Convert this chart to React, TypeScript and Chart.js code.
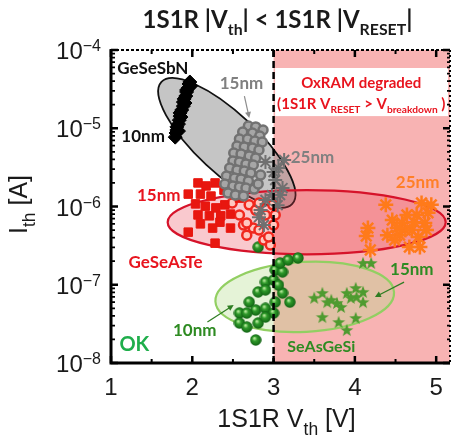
import React, { useEffect, useRef } from 'react';
import { Chart, registerables } from 'chart.js';

Chart.register(...registerables);

// ---- axes ----
const X_MIN = 1;
const X_MAX = 5.17;
const Y_MIN = 1e-8;
const Y_MAX = 1e-4;
const X_TICKS = [1, 2, 3, 4, 5];
const X_MINOR = [1.5, 2.5, 3.5, 4.5];
const Y_DECADES = [-8, -7, -6, -5, -4];
const X_LIMIT = 3; // 1S1R |Vth| < 1S1R |VRESET| boundary

// ---- GeSeSbN 10nm (black diamonds) ----
const sbn10X = [1.97, 1.98, 1.95, 1.93, 1.92, 1.9, 1.91, 1.89, 1.87, 1.85, 1.86, 1.84, 1.83, 1.81, 1.83, 1.8, 1.79, 1.96, 1.93, 1.89, 1.85, 1.81];
const sbn10Y = [3.9e-5, 3.47e-5, 3.27e-5, 2.91e-5, 2.58e-5, 2.37e-5, 2.1e-5, 1.92e-5, 1.71e-5, 1.57e-5, 1.39e-5, 1.27e-5, 1.13e-5, 1.04e-5, 9.2e-6, 8.7e-6, 7.7e-6, 3.68e-5, 3.08e-5, 2.16e-5, 1.43e-5, 9.5e-6];

// ---- GeSeSbN 15nm (grey circles) ----
const sbn15X = [2.69, 2.78, 2.87, 2.62, 2.74, 2.83, 2.58, 2.68, 2.77, 2.86, 2.55, 2.64, 2.74, 2.82, 2.51, 2.6, 2.7, 2.78, 2.5, 2.58, 2.66, 2.75, 2.46, 2.55, 2.64, 2.72, 2.42, 2.52, 2.6, 2.69, 2.4, 2.5, 2.58, 2.66, 2.76, 2.44, 2.53, 2.63, 2.81, 2.84];
const sbn15Y = [1.07e-5, 1.04e-5, 9.5e-6, 8.95e-6, 8.7e-6, 7.96e-6, 7.29e-6, 7.29e-6, 6.87e-6, 6.67e-6, 5.93e-6, 5.75e-6, 5.6e-6, 5.27e-6, 4.83e-6, 4.69e-6, 4.42e-6, 4.17e-6, 3.81e-6, 3.71e-6, 3.49e-6, 3.39e-6, 3.1e-6, 2.92e-6, 2.84e-6, 2.68e-6, 2.45e-6, 2.31e-6, 2.25e-6, 2.12e-6, 1.94e-6, 1.83e-6, 1.77e-6, 1.72e-6, 1.67e-6, 1.49e-6, 1.4e-6, 1.36e-6, 1.94e-6, 2.53e-6];

// ---- GeSeSbN 25nm (grey asterisks) ----
const sbn25X = [2.9, 3.06, 3.13, 3.02, 3.11, 2.98, 3.05, 2.9, 2.84, 2.82, 2.88, 3.08, 3.0];
const sbn25Y = [3.71e-6, 3.1e-6, 3.93e-6, 2.18e-6, 1.72e-6, 1.4e-6, 1.04e-6, 1.21e-6, 9.0e-7, 7.3e-7, 5.8e-7, 1.4e-6, 2.76e-6];

// ---- GeSeAsTe 15nm (red squares) ----
const asTe15X = [2.07, 2.17, 2.28, 2.39, 1.95, 2.1, 2.23, 2.04, 2.16, 2.29, 2.4, 2.47, 2.35, 2.21, 2.07, 2.1, 2.34, 2.47, 2.25, 1.95, 2.28, 2.58];
const asTe15Y = [2.0e-6, 1.83e-6, 2.0e-6, 1.62e-6, 1.44e-6, 1.44e-6, 1.36e-6, 1.08e-6, 1.01e-6, 9.6e-7, 1.05e-6, 8.0e-7, 7.6e-7, 7.6e-7, 7.8e-7, 6.0e-7, 6.3e-7, 5.3e-7, 5.3e-7, 4.7e-7, 3.4e-7, 1.28e-6];

// ---- GeSeAsTe 25nm (red circles) ----
const asTe25X = [2.49, 2.58, 2.63, 2.67, 2.75, 2.82, 2.88, 2.99, 3.0, 2.96, 2.7, 2.78, 2.9, 2.82, 2.94, 2.67, 3.02];
const asTe25Y = [1.11e-6, 7.8e-7, 5.8e-7, 4.3e-7, 5.3e-7, 5.0e-7, 3.73e-7, 1.05e-6, 5.8e-7, 3.22e-7, 1.05e-6, 9.0e-7, 7.8e-7, 1.11e-6, 4.07e-7, 6.15e-7, 7.8e-7];

// ---- 25nm degraded (orange asterisks) ----
const orange25X = [4.38, 4.82, 4.9, 4.46, 4.58, 4.62, 4.55, 4.7, 4.78, 4.86, 4.16, 4.19, 4.8, 4.67, 4.49, 4.94, 4.76, 4.64, 4.52, 4.4, 4.73, 4.88, 4.14];
const orange25Y = [1.05e-6, 1.11e-6, 8.3e-7, 6.7e-7, 6.15e-7, 5.0e-7, 4.3e-7, 5.0e-7, 4.07e-7, 6.15e-7, 5.3e-7, 2.78e-7, 3.03e-7, 3.03e-7, 3.73e-7, 1.05e-6, 7.8e-7, 7.8e-7, 5.3e-7, 4.3e-7, 6.3e-7, 5.0e-7, 4.2e-7];

// ---- SeAsGeSi 10nm (green spheres) ----
const si10X = [2.58, 2.7, 2.81, 2.9, 3.0, 3.02, 3.11, 3.08, 3.11, 3.2, 3.02, 2.78, 2.9, 2.81, 2.58, 3.0, 2.9, 2.67, 2.78, 3.18, 3.3, 2.81, 2.67, 2.9, 3.06];
const si10Y = [4.35e-8, 6.0e-8, 8.1e-8, 1.08e-7, 1.15e-7, 1.54e-7, 1.46e-7, 1.9e-7, 7.85e-8, 6.0e-8, 6.0e-8, 4.75e-8, 5.0e-8, 3.24e-8, 3.24e-8, 4.35e-8, 3.87e-8, 4.35e-8, 1.97e-8, 2.07e-7, 2.2e-7, 3.03e-7, 2.88e-8, 8.6e-8, 9.9e-8];

// ---- SeAsGeSi 15nm (green stars) ----
const si15X = [3.5, 3.6, 3.71, 3.78, 3.9, 4.01, 4.1, 4.02, 4.1, 3.83, 3.6, 3.8, 4.01, 3.9, 4.1, 4.2, 3.66, 3.95];
const si15Y = [6.8e-8, 7.85e-8, 6.4e-8, 5.85e-8, 7.85e-8, 9.1e-8, 8.1e-8, 7.0e-8, 6.0e-8, 5.2e-8, 3.87e-8, 3.34e-8, 3.76e-8, 2.64e-8, 1.9e-7, 1.9e-7, 6.0e-8, 6.8e-8];

// ---- ellipses (center in data, semi-axes in volts-equivalent, angle deg) ----
const ELLIPSES = [
  { cx: 2.425, cy: 6.5e-6, rx: 1.1, ry: 0.37, angle: 43, fill: 'rgba(150,150,150,0.55)', stroke: '#111111', lw: 1.8 },
  { cx: 3.407, cy: 6.3e-7, rx: 1.71, ry: 0.395, angle: 0, fill: 'rgba(235,60,80,0.28)', stroke: '#d6132a', lw: 2.2 },
  { cx: 3.383, cy: 7.0e-8, rx: 1.1, ry: 0.43, angle: -3, fill: 'rgba(180,220,140,0.35)', stroke: '#92cf62', lw: 2.2 },
];

type Run = { t: string; k?: 'sub' | 'sup' };

const LABELS: { runs: Run[]; x: number; y: number; color: string; size: number }[] = [
  { runs: [{ t: 'GeSeSbN' }], x: 1.515, y: 5.89e-5, color: '#111111', size: 17 },
  { runs: [{ t: '10nm' }], x: 1.395, y: 7.96e-6, color: '#111111', size: 17 },
  { runs: [{ t: '15nm' }], x: 2.605, y: 3.79e-5, color: '#808080', size: 17 },
  { runs: [{ t: '25nm' }], x: 3.479, y: 4.29e-6, color: '#808080', size: 17 },
  { runs: [{ t: '15nm' }], x: 1.587, y: 1.4e-6, color: '#e8141e', size: 17 },
  { runs: [{ t: 'GeSeAsTe' }], x: 1.671, y: 1.95e-7, color: '#e8141e', size: 17 },
  { runs: [{ t: '25nm' }], x: 4.772, y: 2.06e-6, color: '#ff7f27', size: 17 },
  { runs: [{ t: '15nm' }], x: 4.7, y: 1.59e-7, color: '#2e8b22', size: 17 },
  { runs: [{ t: '10nm' }], x: 2.03, y: 2.64e-8, color: '#2e8b22', size: 17 },
  { runs: [{ t: 'SeAsGeSi' }], x: 3.587, y: 1.65e-8, color: '#2e8b22', size: 16 },
  { runs: [{ t: 'OK' }], x: 1.287, y: 1.75e-8, color: '#1fae4b', size: 20 },
];

const ARROWS = [
  { from: [2.641, 2.58e-5], to: [2.701, 1.35e-5], color: '#8c8c8c' },
  { from: [4.605, 1.08e-7], to: [4.246, 6.97e-8], color: '#2e7d22' },
  { from: [2.186, 3.34e-8], to: [2.509, 5.51e-8], color: '#2e7d22' },
];

const BOX = { x0: 3, yTop: 5.89e-5, yBottom: 1.43e-5, textX: 4.078, line1Y: 3.79e-5, line2Y: 2.1e-5 };
const BOX_LINE1: Run[] = [{ t: 'OxRAM degraded' }];
const BOX_LINE2: Run[] = [{ t: '(1S1R V' }, { t: 'RESET', k: 'sub' }, { t: ' > V' }, { t: 'breakdown', k: 'sub' }, { t: ' )' }];
const TITLE: Run[] = [{ t: '1S1R |V' }, { t: 'th', k: 'sub' }, { t: '| < 1S1R |V' }, { t: 'RESET', k: 'sub' }, { t: '|' }];
const X_TITLE: Run[] = [{ t: '1S1R V' }, { t: 'th', k: 'sub' }, { t: ' [V]' }];
const Y_TITLE: Run[] = [{ t: 'I' }, { t: 'th', k: 'sub' }, { t: ' [A]' }];

const BOLD = 'Lato, "Open Sans", sans-serif';
const SANS = '"Liberation Sans", Arial, sans-serif';

const pts = (xs: number[], ys: number[]) => xs.map((x, i) => ({ x, y: ys[i] }));

function drawRuns(
  ctx: CanvasRenderingContext2D,
  runs: Run[],
  x: number,
  base: number,
  size: number,
  color: string,
  align: 'left' | 'center' | 'right',
  family: string,
  weight: string,
  subRatio = 0.65,
  subShift = 0.28
) {
  const sub = size * subRatio;
  const f = (sz: number) => `${weight} ${sz}px ${family}`;
  const widths = runs.map((r) => {
    ctx.font = f(r.k ? sub : size);
    return ctx.measureText(r.t).width;
  });
  const total = widths.reduce((a, b) => a + b, 0);
  let cx = align === 'center' ? x - total / 2 : align === 'right' ? x - total : x;
  ctx.fillStyle = color;
  ctx.textBaseline = 'alphabetic';
  ctx.textAlign = 'left';
  runs.forEach((r, i) => {
    ctx.font = f(r.k ? sub : size);
    const dy = r.k === 'sub' ? size * subShift : r.k === 'sup' ? -size * 0.4 : 0;
    ctx.fillText(r.t, cx, base + dy);
    cx += widths[i];
  });
}

function makeSphere(): HTMLCanvasElement {
  const s = 12;
  const c = document.createElement('canvas');
  c.width = s;
  c.height = s;
  const g = c.getContext('2d')!;
  const grad = g.createRadialGradient(s * 0.38, s * 0.35, 0.5, s / 2, s / 2, s / 2);
  grad.addColorStop(0, '#b5e89a');
  grad.addColorStop(0.35, '#2f9a2a');
  grad.addColorStop(1, '#0f5f12');
  g.fillStyle = grad;
  g.beginPath();
  g.arc(s / 2, s / 2, s / 2 - 0.3, 0, Math.PI * 2);
  g.fill();
  return c;
}

function makeStar(): HTMLCanvasElement {
  const s = 14;
  const c = document.createElement('canvas');
  c.width = s;
  c.height = s;
  const g = c.getContext('2d')!;
  g.fillStyle = '#4f9b30';
  g.beginPath();
  for (let i = 0; i < 10; i++) {
    const r = i % 2 === 0 ? 6.8 : 2.8;
    const a = -Math.PI / 2 + (i * Math.PI) / 5;
    const px = s / 2 + r * Math.cos(a);
    const py = s / 2 + 0.5 + r * Math.sin(a);
    if (i === 0) g.moveTo(px, py);
    else g.lineTo(px, py);
  }
  g.closePath();
  g.fill();
  return c;
}

export default function App() {
  const ref = useRef<HTMLCanvasElement | null>(null);

  useEffect(() => {
    if (!ref.current) return;

    const decorBack = {
      id: 'decorBack',
      beforeDatasetsDraw(chart: any) {
        const { ctx, chartArea: a, scales } = chart;
        const xs = scales.x;
        const ys = scales.y;
        ctx.save();
        const xl = xs.getPixelForValue(X_LIMIT);
        ctx.fillStyle = '#f8b3b3';
        ctx.fillRect(xl, a.top, a.right - xl, a.bottom - a.top);
        const unit = xs.getPixelForValue(2) - xs.getPixelForValue(1);
        ELLIPSES.forEach((e) => {
          ctx.beginPath();
          ctx.ellipse(xs.getPixelForValue(e.cx), ys.getPixelForValue(e.cy), e.rx * unit, e.ry * unit, (e.angle * Math.PI) / 180, 0, Math.PI * 2);
          ctx.fillStyle = e.fill;
          ctx.fill();
          ctx.lineWidth = e.lw;
          ctx.strokeStyle = e.stroke;
          ctx.stroke();
        });
        ctx.restore();
      },
    };

    const decorFront = {
      id: 'decorFront',
      afterDatasetsDraw(chart: any) {
        const { ctx, chartArea: a, scales } = chart;
        const xs = scales.x;
        const ys = scales.y;
        ctx.save();
        const xl = xs.getPixelForValue(X_LIMIT);
        ctx.strokeStyle = '#000';
        ctx.lineWidth = 2.5;
        ctx.setLineDash([7, 4]);
        ctx.beginPath();
        ctx.moveTo(xl, a.top);
        ctx.lineTo(xl, a.bottom);
        ctx.stroke();
        ctx.setLineDash([]);

        const by0 = ys.getPixelForValue(BOX.yTop);
        const by1 = ys.getPixelForValue(BOX.yBottom);
        ctx.fillStyle = '#ffffff';
        ctx.fillRect(xl + 1.5, by0, a.right - 2 - (xl + 1.5), by1 - by0);
        const tx = xs.getPixelForValue(BOX.textX);
        drawRuns(ctx, BOX_LINE1, tx, ys.getPixelForValue(BOX.line1Y) + 5.5, 15, '#e8141e', 'center', BOLD, 'bold');
        drawRuns(ctx, BOX_LINE2, tx, ys.getPixelForValue(BOX.line2Y) + 5.5, 15, '#e8141e', 'center', BOLD, 'bold', 0.68, 0.3);

        ARROWS.forEach((ar) => {
          const x0 = xs.getPixelForValue(ar.from[0]);
          const y0 = ys.getPixelForValue(ar.from[1]);
          const x1 = xs.getPixelForValue(ar.to[0]);
          const y1 = ys.getPixelForValue(ar.to[1]);
          const ang = Math.atan2(y1 - y0, x1 - x0);
          ctx.strokeStyle = ar.color;
          ctx.fillStyle = ar.color;
          ctx.lineWidth = 1.2;
          ctx.beginPath();
          ctx.moveTo(x0, y0);
          ctx.lineTo(x1 - 4 * Math.cos(ang), y1 - 4 * Math.sin(ang));
          ctx.stroke();
          ctx.beginPath();
          ctx.moveTo(x1, y1);
          ctx.lineTo(x1 - 6 * Math.cos(ang) + 3 * Math.sin(ang), y1 - 6 * Math.sin(ang) - 3 * Math.cos(ang));
          ctx.lineTo(x1 - 6 * Math.cos(ang) - 3 * Math.sin(ang), y1 - 6 * Math.sin(ang) + 3 * Math.cos(ang));
          ctx.closePath();
          ctx.fill();
        });

        LABELS.forEach((l) => {
          drawRuns(ctx, l.runs, xs.getPixelForValue(l.x), ys.getPixelForValue(l.y) + l.size * 0.36, l.size, l.color, 'center', BOLD, 'bold');
        });

        // frame
        ctx.strokeStyle = '#000';
        ctx.lineWidth = 2;
        ctx.setLineDash([3, 2]);
        ctx.beginPath();
        ctx.moveTo(a.left, a.top);
        ctx.lineTo(a.right, a.top);
        ctx.stroke();
        ctx.setLineDash([2, 3]);
        ctx.beginPath();
        ctx.moveTo(a.right, a.top);
        ctx.lineTo(a.right, a.bottom);
        ctx.stroke();
        ctx.setLineDash([]);
        ctx.lineWidth = 3;
        ctx.beginPath();
        ctx.moveTo(a.left, a.top - 1);
        ctx.lineTo(a.left, a.bottom);
        ctx.lineTo(a.right, a.bottom);
        ctx.stroke();

        ctx.lineWidth = 2.5;
        X_TICKS.forEach((v) => {
          const p = xs.getPixelForValue(v);
          ctx.beginPath();
          ctx.moveTo(p, a.bottom);
          ctx.lineTo(p, a.bottom - 7);
          ctx.moveTo(p, a.top);
          ctx.lineTo(p, a.top + 7);
          ctx.stroke();
        });
        ctx.lineWidth = 2;
        X_MINOR.forEach((v) => {
          const p = xs.getPixelForValue(v);
          ctx.beginPath();
          ctx.moveTo(p, a.bottom);
          ctx.lineTo(p, a.bottom - 4);
          ctx.moveTo(p, a.top);
          ctx.lineTo(p, a.top + 4);
          ctx.stroke();
        });
        Y_DECADES.forEach((d) => {
          const p = ys.getPixelForValue(Math.pow(10, d));
          ctx.lineWidth = 2.5;
          ctx.beginPath();
          ctx.moveTo(a.left, p);
          ctx.lineTo(a.left + 7, p);
          ctx.moveTo(a.right, p);
          ctx.lineTo(a.right - 7, p);
          ctx.stroke();
          if (d < -4) {
            ctx.lineWidth = 1.8;
            for (let m = 2; m <= 9; m++) {
              const q = ys.getPixelForValue(m * Math.pow(10, d));
              ctx.beginPath();
              ctx.moveTo(a.left, q);
              ctx.lineTo(a.left + 4, q);
              ctx.moveTo(a.right, q);
              ctx.lineTo(a.right - 3, q);
              ctx.stroke();
            }
          }
        });

        Y_DECADES.forEach((d) => {
          const p = ys.getPixelForValue(Math.pow(10, d));
          ctx.font = `24px ${SANS}`;
          const w1 = ctx.measureText('10').width;
          ctx.font = `16px ${SANS}`;
          const sup = '\u2212' + Math.abs(d);
          const w2 = ctx.measureText(sup).width;
          const start = a.left - 10 - w1 - w2;
          ctx.fillStyle = '#1a1a1a';
          ctx.textAlign = 'left';
          ctx.textBaseline = 'alphabetic';
          ctx.font = `24px ${SANS}`;
          ctx.fillText('10', start, p + 9);
          ctx.font = `16px ${SANS}`;
          ctx.fillText(sup, start + w1, p + 1);
        });
        ctx.font = `24px ${SANS}`;
        ctx.textAlign = 'center';
        X_TICKS.forEach((v) => {
          ctx.fillText(String(v), xs.getPixelForValue(v), a.bottom + 32);
        });

        drawRuns(ctx, X_TITLE, (a.left + a.right) / 2 + 6, a.bottom + 64, 25, '#1a1a1a', 'center', SANS, 'normal', 0.7, 0.3);
        ctx.save();
        ctx.translate(27, (a.top + a.bottom) / 2 - 2);
        ctx.rotate(-Math.PI / 2);
        drawRuns(ctx, Y_TITLE, 0, 0, 25, '#1a1a1a', 'center', SANS, 'normal', 0.7, 0.3);
        ctx.restore();

        drawRuns(ctx, TITLE, (a.left + a.right) / 2 - 3, 28, 24, '#1a1a1a', 'center', BOLD, 'bold', 0.66, 0.3);
        ctx.restore();
      },
    };

    const sphere = makeSphere();
    const star = makeStar();

    const chart = new Chart(ref.current, {
      type: 'scatter',
      data: {
        datasets: [
          { label: 'GeSeSbN 15nm', data: pts(sbn15X, sbn15Y), pointStyle: 'circle', pointRadius: 4.5, backgroundColor: '#a6a6a6', borderColor: '#727272', borderWidth: 2.5 },
          { label: 'GeSeSbN 25nm', data: pts(sbn25X, sbn25Y), pointStyle: 'star', pointRadius: 7, backgroundColor: '#707070', borderColor: '#707070', borderWidth: 2 },
          { label: 'GeSeSbN 10nm', data: pts(sbn10X, sbn10Y), pointStyle: 'rectRot', pointRadius: 7, backgroundColor: '#000', borderColor: '#000', borderWidth: 1 },
          { label: 'GeSeAsTe 15nm', data: pts(asTe15X, asTe15Y), pointStyle: 'rect', pointRadius: 6, backgroundColor: '#e8170f', borderColor: '#e8170f', borderWidth: 1 },
          { label: 'GeSeAsTe 25nm', data: pts(asTe25X, asTe25Y), pointStyle: 'circle', pointRadius: 4.5, backgroundColor: '#ffc8c0', borderColor: '#f0281e', borderWidth: 2.5 },
          { label: '25nm', data: pts(orange25X, orange25Y), pointStyle: 'star', pointRadius: 7.5, backgroundColor: '#ff7a1a', borderColor: '#ff7a1a', borderWidth: 2.5 },
          { label: 'SeAsGeSi 10nm', data: pts(si10X, si10Y), pointStyle: sphere as any, pointRadius: 6 },
          { label: 'SeAsGeSi 15nm', data: pts(si15X, si15Y), pointStyle: star as any, pointRadius: 7 },
        ],
      },
      options: {
        animation: false,
        responsive: false,
        devicePixelRatio: 1,
        layout: { padding: { top: 50, right: 1, left: 0, bottom: 0 } },
        plugins: { legend: { display: false }, tooltip: { enabled: false } },
        scales: {
          x: {
            type: 'linear',
            min: X_MIN,
            max: X_MAX,
            grid: { display: false },
            border: { display: false },
            ticks: { display: false },
            afterFit: (s: any) => {
              s.height = 76;
            },
          },
          y: {
            type: 'logarithmic',
            min: Y_MIN,
            max: Y_MAX,
            grid: { display: false },
            border: { display: false },
            ticks: { display: false },
            afterFit: (s: any) => {
              s.width = 111;
            },
          },
        },
      },
      plugins: [decorBack, decorFront],
    } as any);

    return () => chart.destroy();
  }, []);

  return (
    <div style={{ position: 'absolute', left: 0, top: 0, width: 460, height: 439, background: '#fff' }}>
      <canvas ref={ref} width={460} height={439} />
    </div>
  );
}
